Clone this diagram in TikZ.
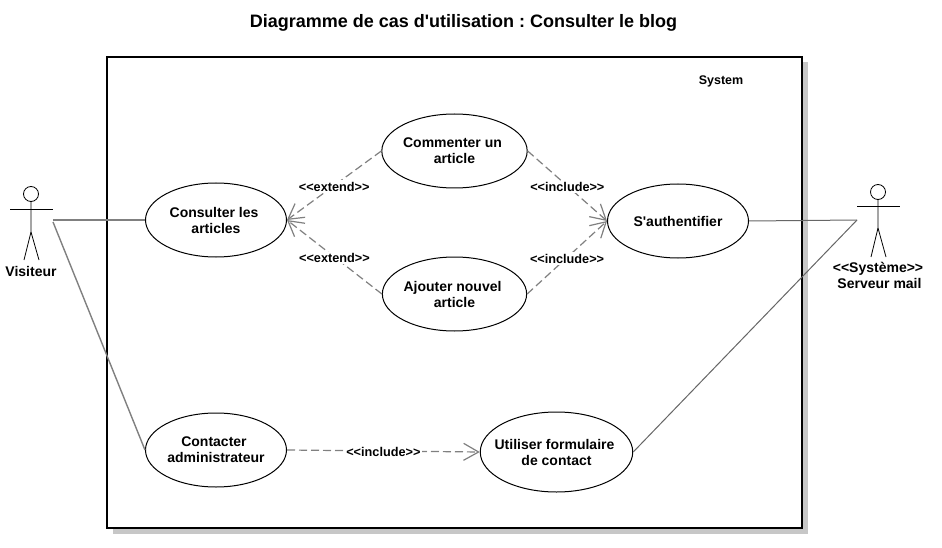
\documentclass[tikz,border=0pt]{standalone}
\usepackage{fontspec}
\setmainfont{Liberation Sans}
\usetikzlibrary{shapes.geometric,arrows.meta,positioning,calc}

\tikzset{
  usecase/.style={draw, ellipse, fill=white, line width=1pt, inner sep=0pt, align=center, font=\fontsize{14}{16}\selectfont\bfseries},
  assoc/.style={draw=gray, line width=1.4pt},
  assocthin/.style={draw=black!60, line width=1pt},
  relation/.style={draw=black!50, line width=1.2pt, dashed, dash pattern=on 8pt off 4pt, -{Straight Barb[length=15pt,width=17pt]}},
  rellabel/.style={fill=white, inner sep=1.5pt, yshift=-1pt, font=\fontsize{12.7}{15}\selectfont\bfseries},
  actorhead/.style={draw, circle, line width=0.8pt, minimum size=15pt, inner sep=0pt},
  actortext/.style={align=center, font=\fontsize{14}{16}\selectfont\bfseries}
}
\newcommand{\espacefin}{\kern4pt}

\begin{document}
\begin{tikzpicture}[x=1pt, y=-1pt]
\useasboundingbox (0,0) rectangle (942,548);

% titre
\node[font=\fontsize{18}{20}\selectfont\bfseries] (titre) at (463.5,22.5) {\frenchspacing Diagramme de cas d\textquotesingle utilisation : Consulter le blog};

% systeme
\node[fill=black!22, minimum width=695pt, minimum height=471pt, inner sep=0pt] (ombre) at (460,298) {};
\node[draw, fill=white, line width=2pt, minimum width=695pt, minimum height=471pt, inner sep=0pt] (systeme) at (454.5,292.5) {};
\node[font=\fontsize{12.5}{15}\selectfont\bfseries] (nomsysteme) at (721,81) {System};

% acteur visiteur
\node[actorhead] (visiteur) at (31,194) {};
\draw[line width=0.8pt] (visiteur.south) -- (31,232) -- (24,260);
\draw[line width=0.8pt] (31,232) -- (39,260);
\draw[line width=0.8pt] (10,209) -- (53,209);
\node[actortext] (nomvisiteur) at (31,271) {Visiteur};
\coordinate (visiteurhaut) at (53,220);
\coordinate (visiteurbas) at (53,222);

% acteur serveur
\node[actorhead] (serveur) at (878,192) {};
\draw[line width=0.8pt] (serveur.south) -- (878,228) -- (871,257);
\draw[line width=0.8pt] (878,228) -- (886,257);
\draw[line width=0.8pt] (857,206) -- (900,206);
\node[actortext] (nomserveur) at (878,275) {<{}<Système>{}>\\\kern3pt Serveur mail};
\coordinate (serveurpoint) at (857,220);

% cas d'utilisation
\node[usecase, minimum width=141pt, minimum height=74pt] (consulter) at (216,220) {Consulter les\espacefin\\articles};
\node[usecase, minimum width=142pt, minimum height=74pt] (commenter) at (454.5,151) {Commenter un\espacefin\\article};
\node[usecase, minimum width=142pt, minimum height=74pt] (ajouter) at (454.5,294) {Ajouter nouvel\espacefin\\article};
\node[usecase, minimum width=141pt, minimum height=74pt] (authentifier) at (678,221) {S\textquotesingle authentifier};
\node[usecase, minimum width=141pt, minimum height=74pt] (contacter) at (216,450) {Contacter\espacefin\\administrateur};
\node[usecase, inner xsep=-8pt, minimum width=150pt, minimum height=80pt] (utiliser) at (556.5,452) {Utiliser formulaire\espacefin\\de contact};

% associations
\draw[assoc] (visiteurhaut) -- (consulter.west);
\draw[assoc] (visiteurbas) -- (contacter.west);
\draw[assocthin] (authentifier.east) -- (serveurpoint);
\draw[assocthin] (utiliser.east) -- (serveurpoint);

% extend et include
\draw[relation] (commenter.west) -- node[rellabel] {<{}<extend>{}>} (consulter.east);
\draw[relation] (ajouter.west) -- node[rellabel] {<{}<extend>{}>} (consulter.east);
\draw[relation] (commenter.east) -- node[rellabel] {<{}<include>{}>} (authentifier.west);
\draw[relation] (ajouter.east) -- node[rellabel] {<{}<include>{}>} (authentifier.west);
\draw[relation] (contacter.east) -- node[rellabel] {<{}<include>{}>} (utiliser.west);
\end{tikzpicture}
\end{document}
